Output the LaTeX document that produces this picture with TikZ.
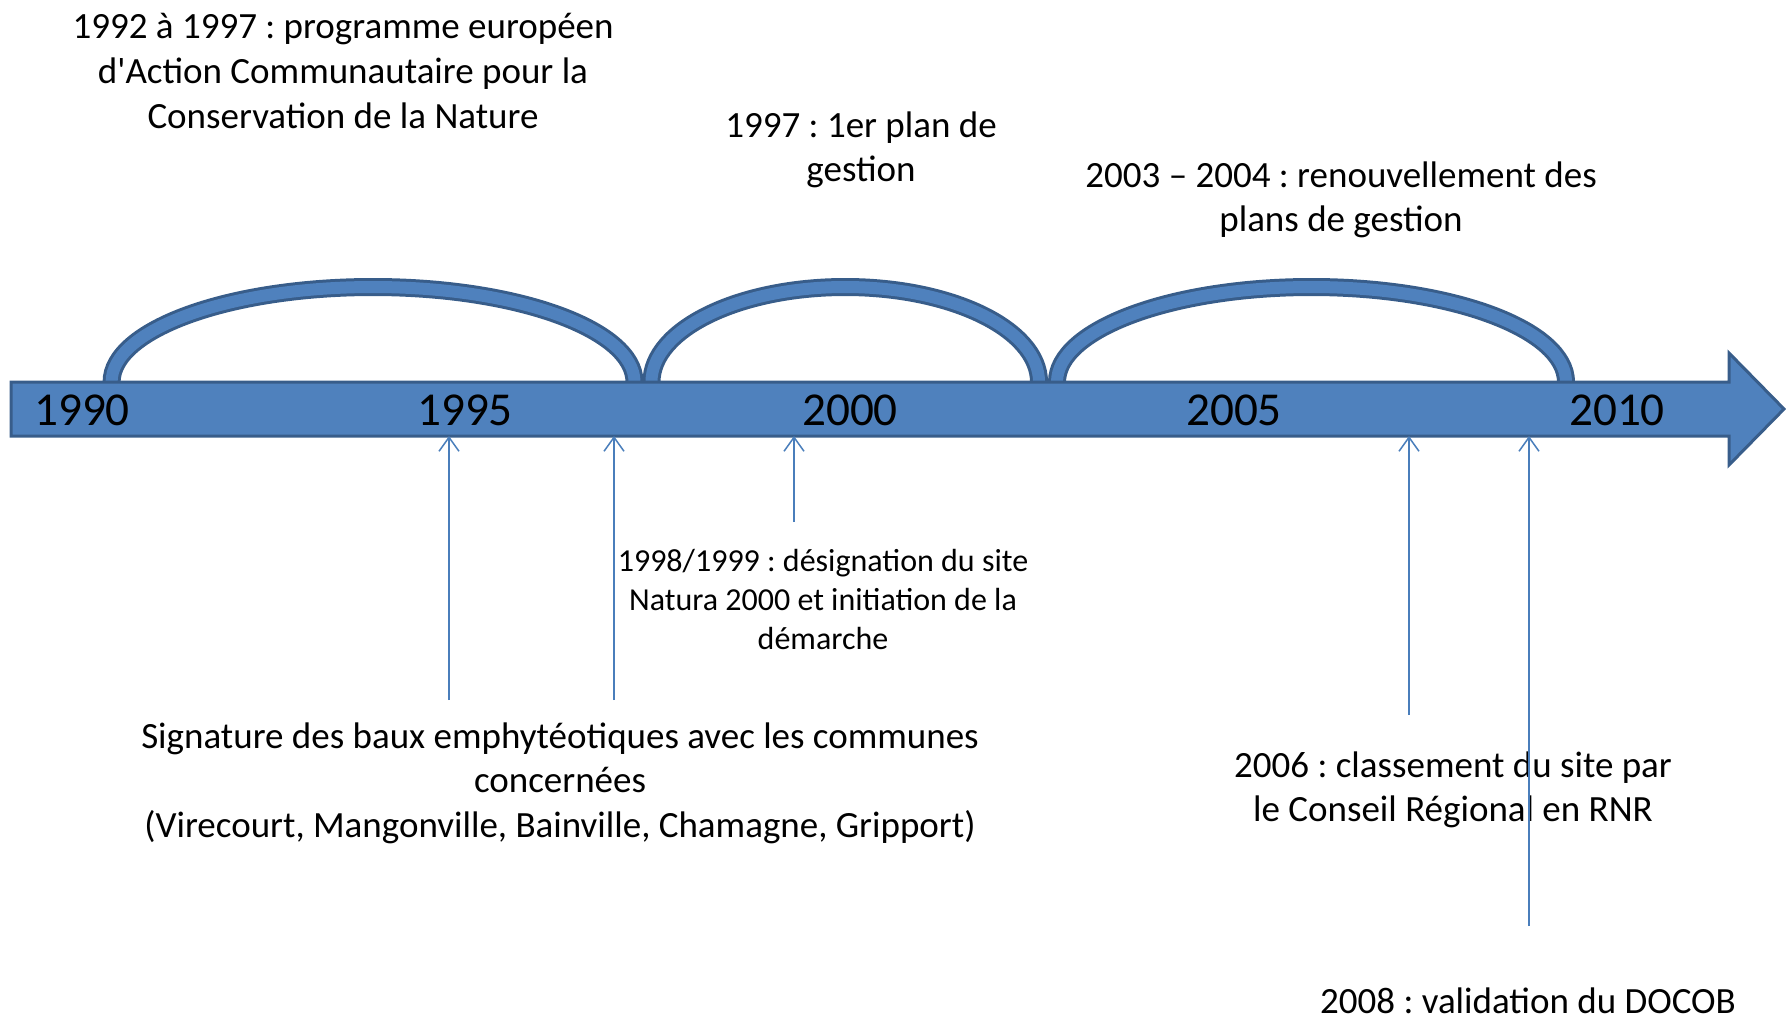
\documentclass[tikz,border=0pt]{standalone}
\usepackage{fontspec}
\setmainfont{Carlito}
\usetikzlibrary{arrows,arrows.meta}
\definecolor{barblue}{HTML}{4F81BD}
\definecolor{bardark}{HTML}{385D8A}
\definecolor{lineblue}{HTML}{4A7EBB}
\tikzset{
  big/.style={font=\fontsize{18.5}{22.3}\selectfont, align=center, inner sep=0pt},
  small/.style={font=\fontsize{16}{19.4}\selectfont, align=center, inner sep=0pt},
  year/.style={font=\fontsize{23.6}{28}\selectfont, inner sep=0pt},
  pin/.style={->, >={Straight Barb[length=7pt,width=10pt]}, lineblue, line width=0.75pt},
  archout/.style={bardark, line width=9pt},
  archin/.style={barblue, line width=6pt}
}
\frenchspacing
\begin{document}
\begin{tikzpicture}[x=0.5pt, y=0.5pt]
  \useasboundingbox (0,0) rectangle (1786,-1018);
  \foreach \l/\r in {111.6/634.5, 651.5/1039, 1057/1566} {
    \pgfmathsetmacro{\rx}{(\r-\l)/2}
    \draw [archout] (\l,-382) arc [start angle=180, end angle=0, x radius=\rx, y radius=95];
    \draw [archin] (\l,-382) arc [start angle=180, end angle=0, x radius=\rx, y radius=95];
  }
  \draw [fill=barblue, draw=bardark, line width=1.5pt, line join=miter]
    (11,-382) -- (1729,-382) -- (1729,-353) -- (1784,-409)
    -- (1729,-465) -- (1729,-436) -- (11,-436) -- cycle;
  \node [year] (y1990) at (82,-410) {1990};
  \node [year] (y1995) at (465,-410) {1995};
  \node [year] (y2000) at (850,-410) {2000};
  \node [year] (y2005) at (1234,-410) {2005};
  \node [year] (y2010) at (1617,-410) {2010};
  \node [big] (prog) at (343,-71) {1992 à 1997 : programme européen\\d\textquotesingle Action Communautaire pour la\\Conservation de la Nature};
  \node [big] (plan) at (861,-150) {1997 : 1er plan de\\gestion};
  \node [big] (renouv) at (1341,-200) {2003 – 2004 : renouvellement des\\plans de gestion};
  \node [small] (natura) at (823,-599.5) {1998/1999 : désignation du site\\Natura 2000 et initiation de la\\démarche};
  \node [big] (baux) at (560,-783) {Signature des baux emphytéotiques avec les communes\\concernées\\(Virecourt, Mangonville, Bainville, Chamagne, Gripport)};
  \node [big] (rnr) at (1453,-790) {2006 : classement du site par\\le Conseil Régional en RNR};
  \node [big] (docob) at (1528,-1001) {2008 : validation du DOCOB};
  \coordinate (b1) at (449,-436);
  \coordinate (b2) at (614,-436);
  \coordinate (b3) at (794,-436);
  \coordinate (b4) at (1409,-436);
  \coordinate (b5) at (1529,-436);
  \coordinate (s1) at (449,-700);
  \coordinate (s2) at (614,-700);
  \coordinate (s3) at (794,-522);
  \coordinate (s4) at (1409,-715);
  \coordinate (s5) at (1529,-926);
  \draw [pin] (s1) -- (b1);
  \draw [pin] (s2) -- (b2);
  \draw [pin] (s3) -- (b3);
  \draw [pin] (s4) -- (b4);
  \draw [pin] (s5) -- (b5);
\end{tikzpicture}
\end{document}
